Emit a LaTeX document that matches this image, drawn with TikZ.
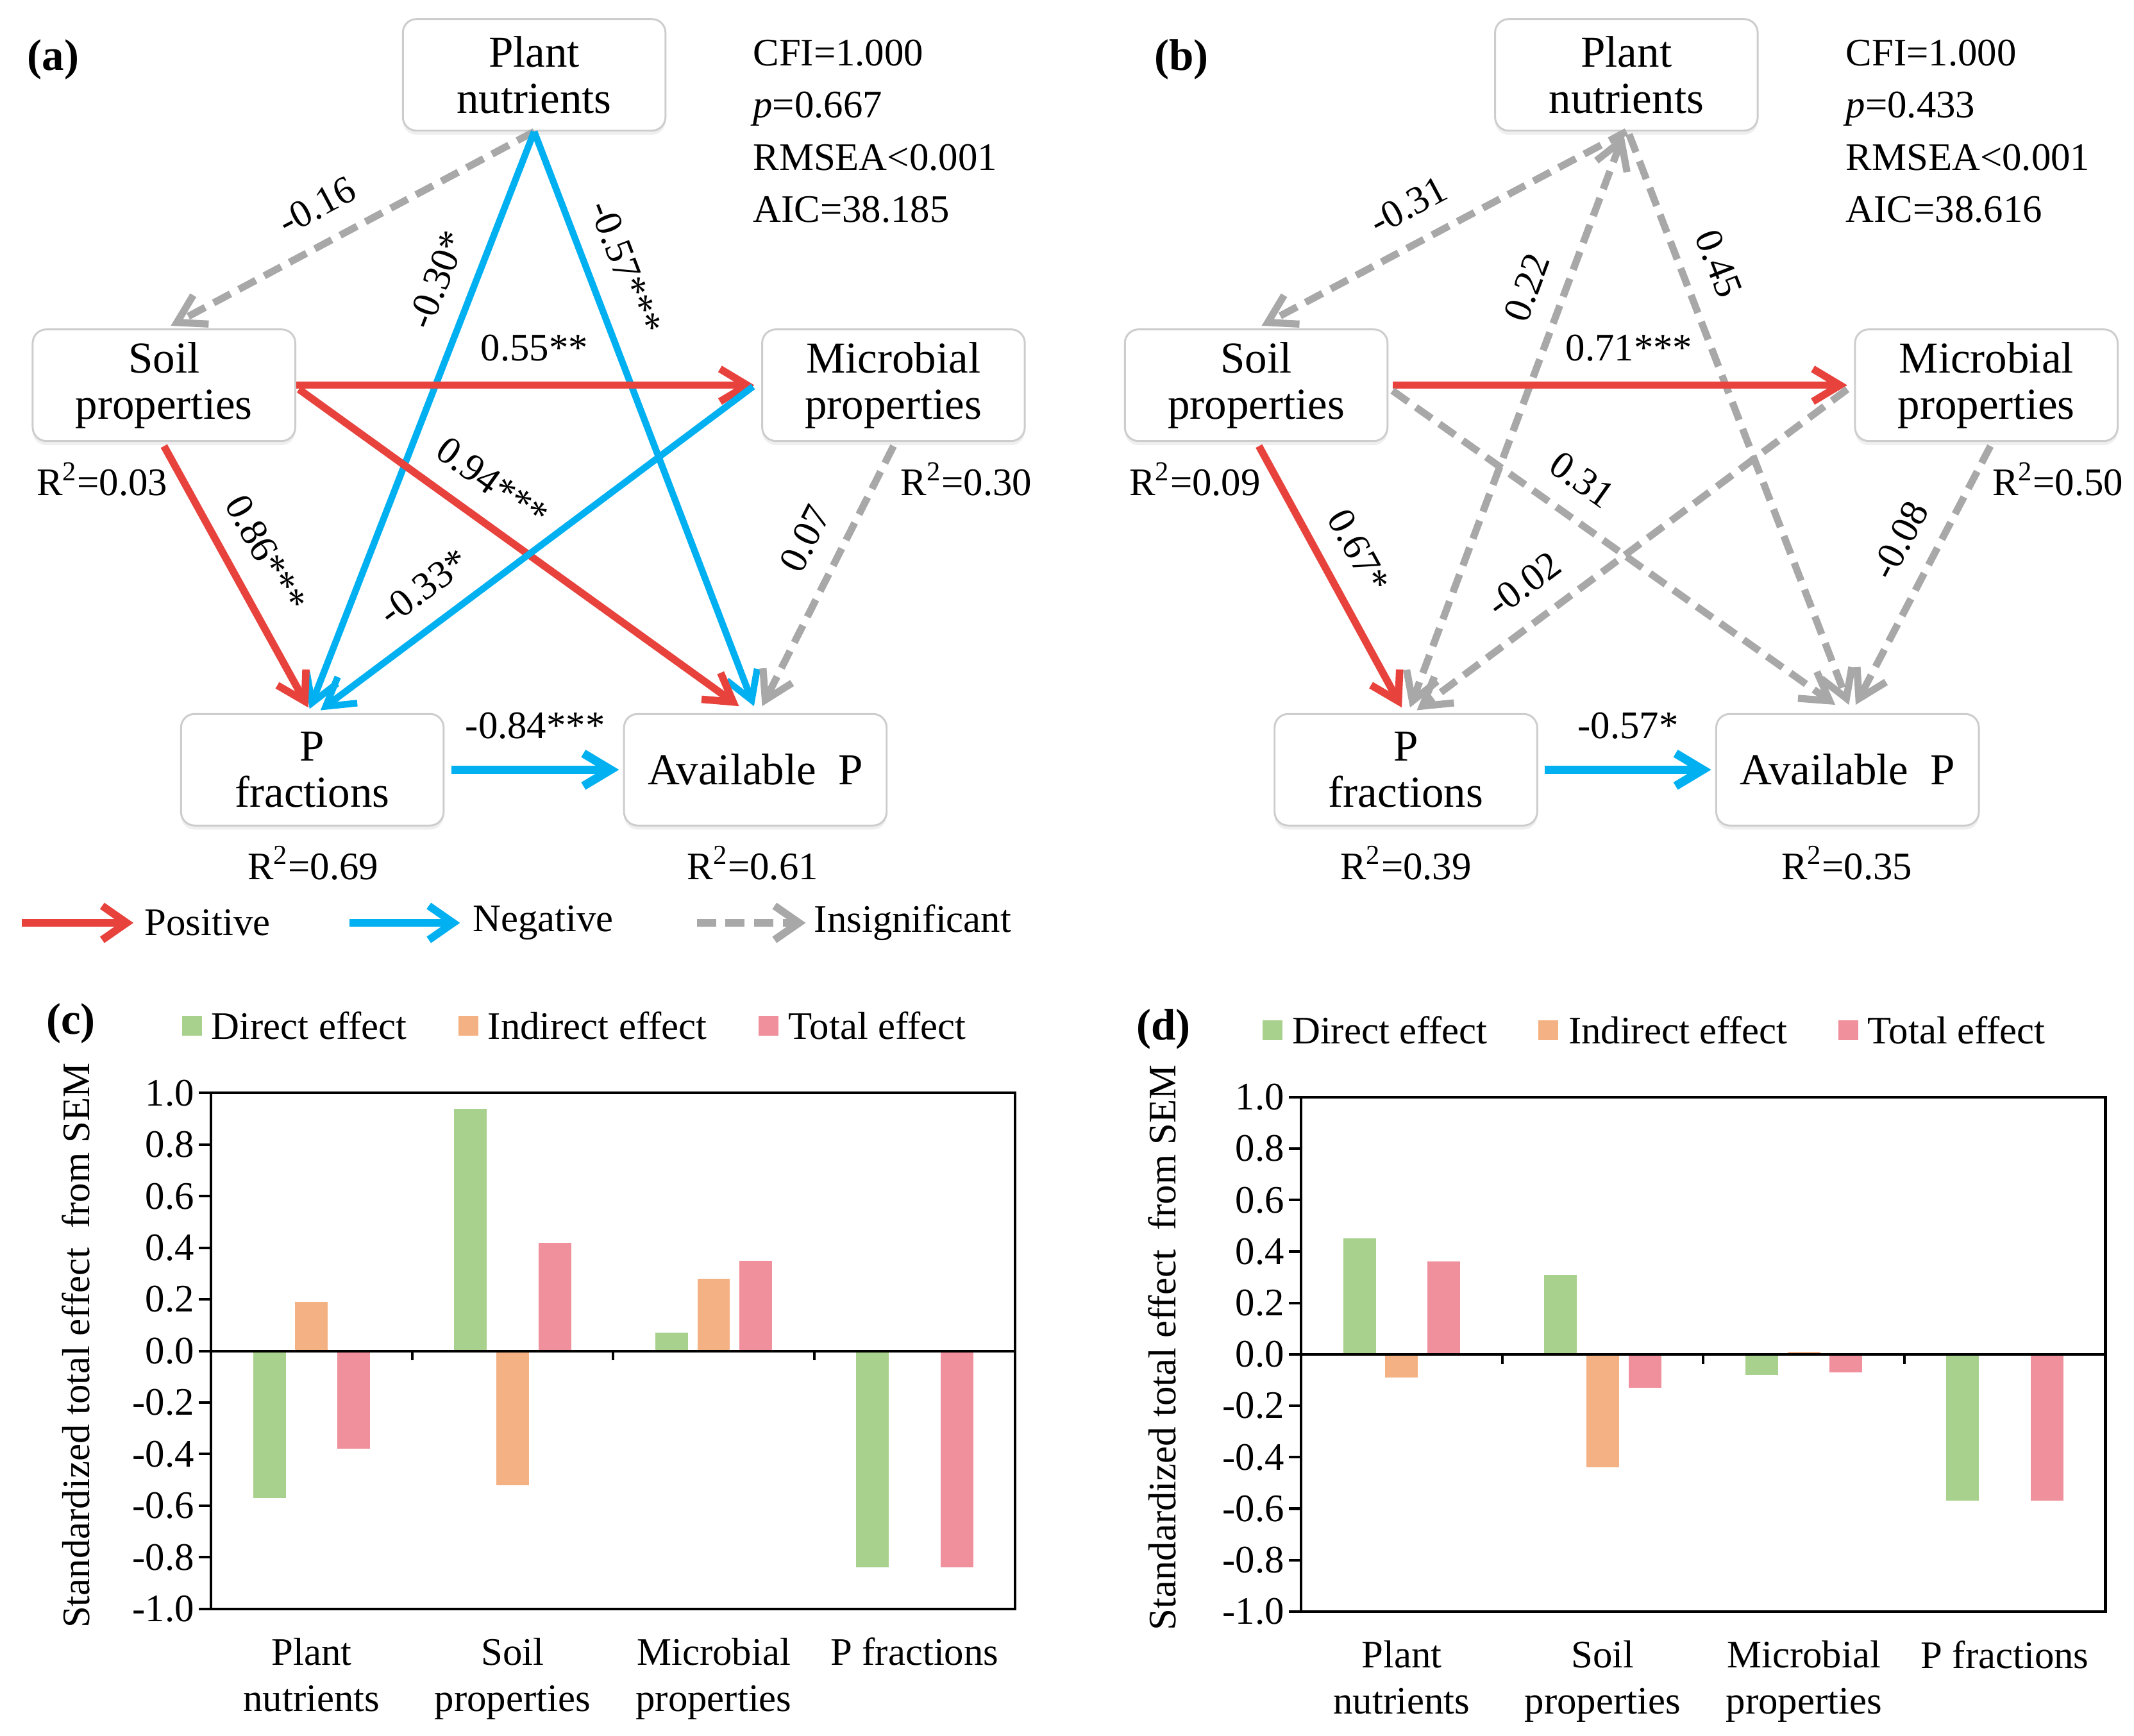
\documentclass[tikz,border=0pt]{standalone}
\usepackage{fontspec}
\setmainfont{Liberation Serif}
\usetikzlibrary{positioning,arrows.meta,calc,shadows}
\definecolor{PosRed}{RGB}{232,66,61}
\definecolor{NegBlue}{RGB}{0,176,240}
\definecolor{InsGray}{RGB}{168,168,168}
\definecolor{BoxLine}{RGB}{205,205,205}
\definecolor{DirGreen}{RGB}{169,209,142}
\definecolor{IndOrange}{RGB}{244,177,131}
\definecolor{TotPink}{RGB}{240,144,156}
\newcommand{\semfont}{\fontsize{16.3}{19.3}\selectfont}
\newcommand{\boxfont}{\fontsize{18.5}{19.3}\selectfont}
\newcommand{\fitfont}{\fontsize{16.3}{21.8}\selectfont}
\newcommand{\panelfont}{\fontsize{18.5}{20}\selectfont\bfseries}

\begin{document}
\begin{tikzpicture}[x=0.02cm, y=-0.02cm,
  every node/.style={font=\semfont, inner sep=0pt},
  varbox/.style={draw=BoxLine, line width=0.8pt, rounded corners=0.2cm, fill=white,
    minimum width=3.86cm, minimum height=1.64cm, align=center, font=\boxfont,
    drop shadow={shadow xshift=0pt, shadow yshift=-0.06cm, fill=black!12}},
  semtip/.style={-{Straight Barb[length=0.4cm, width=0.48cm]}},
  posarr/.style={semtip, draw=PosRed, line width=3.1pt},
  negarr/.style={semtip, draw=NegBlue, line width=2.8pt},
  insarr/.style={semtip, draw=InsGray, line width=3pt, dash pattern=on 8pt off 4pt},
  legarr/.style={line width=3.2pt, -{Straight Barb[length=0.36cm, width=0.5cm]}},
  coef/.style={sloped, above, inner sep=8.5pt, text=black},
  fitstat/.style={font=\fitfont, align=left, anchor=west},
  panel/.style={font=\panelfont},
  axisline/.style={line width=1.1pt},
  legsq/.style={minimum size=0.29cm},
  catlab/.style={anchor=north, align=center}
]
\useasboundingbox (0,0) rectangle (1568,1275);

% ---------- (a) SEM ----------
\node[panel] (a-lab) at (39,44) {(a)};
\node[varbox] (a-pn) at (392.5,55) {Plant\\nutrients};
\node[varbox] (a-sp) at (120.5,283) {Soil\\properties};
\node[varbox] (a-mp) at (656.5,283) {Microbial\\properties};
\node[varbox] (a-pf) at (229.5,565.5) {P\\fractions};
\node[varbox] (a-ap) at (555,565.5) {Available\ \ P};
\node[fitstat] (a-fit) at (553,96.5) {CFI=1.000\\\textit{p}=0.667\\RMSEA<0.001\\AIC=38.185};
\node (a-r-sp) at (75,352) {R\textsuperscript{2}=0.03};
\node (a-r-mp) at (710,352) {R\textsuperscript{2}=0.30};
\node (a-r-pf) at (230,634) {R\textsuperscript{2}=0.69};
\node (a-r-ap) at (553,634) {R\textsuperscript{2}=0.61};

\draw[insarr] (a-pn.south) -- node[coef, pos=0.55] (a-e1) {-0.16} ($(a-sp.north)+(5,-2)$);
\draw[negarr] (a-pn.south) -- node[coef, pos=0.28] (a-e2) {-0.30*} ($(a-pf.north)+(-2,-3)$);
\draw[negarr] (a-pn.south) -- node[coef, pos=0.26] (a-e3) {-0.57***} ($(a-ap.north)+(-1,-5)$);
\draw[posarr] (a-sp.east) -- node[coef, pos=0.52] (a-e4) {0.55**} ($(a-mp.west)+(-5,0)$);
\draw[posarr] ($(a-sp.east)+(2,3)$) -- node[coef, pos=0.39] (a-e5) {0.94***} ($(a-ap.north)+(-12,-5)$);
\draw[posarr] ($(a-sp.south)+(0,3)$) -- node[coef, pos=0.48] (a-e6) {0.86***} ($(a-pf.north)+(-3,-4)$);
\draw[negarr] ($(a-mp.west)+(-6,1)$) -- node[coef, pos=0.71] (a-e7) {-0.33*} ($(a-pf.north)+(6,-2)$);
\draw[insarr] ($(a-mp.south)+(0,3)$) -- node[coef, pos=0.42] (a-e8) {0.07} ($(a-ap.north)+(5,-5)$);
\draw[negarr, line width=3.6pt] ($(a-pf.east)+(5,0)$) -- node[coef, inner sep=11pt] (a-e9) {-0.84***} ($(a-ap.west)+(-3,0)$);

% legend
\coordinate (lg-p1) at (16,678);
\coordinate (lg-p2) at (98,678);
\coordinate (lg-n1) at (257,678);
\coordinate (lg-n2) at (338,678);
\coordinate (lg-i1) at (512,678);
\coordinate (lg-i2) at (592,678);
\draw[posarr, legarr] (lg-p1) -- (lg-p2);
\draw[negarr, legarr] (lg-n1) -- (lg-n2);
\draw[insarr, legarr] (lg-i1) -- (lg-i2);
\node[right=0.16cm of lg-p2] (lg-pos) {Positive};
\node[right=0.18cm of lg-n2] (lg-neg) {Negative};
\node[right=0.12cm of lg-i2] (lg-ins) {Insignificant};

% ---------- (b) SEM ----------
\node[panel] (b-lab) at (868,44) {(b)};
\node[varbox] (b-pn) at (1195,55) {Plant\\nutrients};
\node[varbox] (b-sp) at (923,283) {Soil\\properties};
\node[varbox] (b-mp) at (1459.5,283) {Microbial\\properties};
\node[varbox] (b-pf) at (1033,565.5) {P\\fractions};
\node[varbox] (b-ap) at (1357.5,565.5) {Available\ \ P};
\node[fitstat] (b-fit) at (1356,96.5) {CFI=1.000\\\textit{p}=0.433\\RMSEA<0.001\\AIC=38.616};
\node (b-r-sp) at (878,352) {R\textsuperscript{2}=0.09};
\node (b-r-mp) at (1512,352) {R\textsuperscript{2}=0.50};
\node (b-r-pf) at (1033,634) {R\textsuperscript{2}=0.39};
\node (b-r-ap) at (1357,634) {R\textsuperscript{2}=0.35};

\draw[insarr] (b-pn.south) -- node[coef, pos=0.55] (b-e1) {-0.31} ($(b-sp.north)+(4,-2)$);
\draw[insarr, {Straight Barb[length=0.4cm, width=0.48cm]}-{Straight Barb[length=0.4cm, width=0.48cm]}] ($(b-pn.south)+(-2,2)$) -- node[coef, pos=0.29] (b-e2) {0.22} ($(b-pf.north)+(3,-4)$);
\draw[insarr] ($(b-pn.south)+(2,2)$) -- node[coef, pos=0.25] (b-e3) {0.45} ($(b-ap.north)+(1,-6)$);
\draw[posarr] ($(b-sp.east)+(3,0)$) -- node[coef, pos=0.52] (b-e4) {0.71***} ($(b-mp.west)+(-5,0)$);
\draw[insarr] ($(b-sp.east)+(3,4)$) -- node[coef, pos=0.38] (b-e5) {0.31} ($(b-ap.north)+(-9,-6)$);
\draw[posarr] ($(b-sp.south)+(2,3)$) -- node[coef, pos=0.47] (b-e6) {0.67*} ($(b-pf.north)+(-3,-4)$);
\draw[insarr] ($(b-mp.west)+(-5,3)$) -- node[coef, pos=0.70] (b-e7) {-0.02} ($(b-pf.north)+(8,-2)$);
\draw[insarr] ($(b-mp.south)+(3,3)$) -- node[coef, pos=0.43] (b-e8) {-0.08} ($(b-ap.north)+(6,-6)$);
\draw[negarr, line width=3.6pt] ($(b-pf.east)+(5,0)$) -- node[coef, inner sep=11pt] (b-e9) {-0.57*} ($(b-ap.west)+(-3,0)$);

% ---------- (c) effects ----------
\node[panel] (c-lab) at (52,752) {(c)};
\node[legsq, fill=DirGreen] (c-k1) at (141,753.5) {};
\node[right=0.13cm of c-k1] (c-t1) {Direct effect};
\node[legsq, fill=IndOrange] (c-k2) at (344,753.5) {};
\node[right=0.13cm of c-k2] (c-t2) {Indirect effect};
\node[legsq, fill=TotPink] (c-k3) at (564.5,753.5) {};
\node[right=0.14cm of c-k3] (c-t3) {Total effect};
\node[rotate=90] (c-ytitle) at (56,988.5) {Standardized total effect\ \ from SEM};

\begin{scope}[shift={(155,992.5)}, y=3.79cm]
  \foreach \d/\i/\t [count=\k from 0] in {-0.57/0.19/-0.38, 0.94/-0.52/0.42, 0.07/0.28/0.35, -0.84/0/-0.84}{
    \pgfmathsetmacro{\xc}{73.9+147.75*\k}
    \fill[DirGreen] (\xc-43,0) rectangle (\xc-19,\d);
    \fill[IndOrange] (\xc-12,0) rectangle (\xc+12,\i);
    \fill[TotPink] (\xc+19,0) rectangle (\xc+43,\t);
  }
  \draw[axisline] (0,-1) rectangle (591,1);
  \draw[axisline] (0,0) -- (591,0);
  \foreach \xt in {147.75,295.5,443.25} \draw[axisline] (\xt,0) -- (\xt,-0.037);
  \foreach \v/\lab [count=\n] in {1/1.0, 0.8/0.8, 0.6/0.6, 0.4/0.4, 0.2/0.2, 0/0.0, -0.2/-0.2, -0.4/-0.4, -0.6/-0.6, -0.8/-0.8, -1/-1.0}{
    \draw[axisline] (-9,\v) -- (0,\v);
    \node[anchor=east] (c-y\n) at (-12,\v) {\lab};
  }
\end{scope}
\node[catlab] (c-x1) at (228.9,1203) {Plant\\nutrients};
\node[catlab] (c-x2) at (376.6,1203) {Soil\\properties};
\node[catlab] (c-x3) at (524.4,1203) {Microbial\\properties};
\node[catlab] (c-x4) at (672.1,1203) {P fractions};

% ---------- (d) effects ----------
\node[panel] (d-lab) at (855,756) {(d)};
\node[legsq, fill=DirGreen] (d-k1) at (935,757) {};
\node[right=0.13cm of d-k1] (d-t1) {Direct effect};
\node[legsq, fill=IndOrange] (d-k2) at (1137.5,757) {};
\node[right=0.14cm of d-k2] (d-t2) {Indirect effect};
\node[legsq, fill=TotPink] (d-k3) at (1358,757) {};
\node[right=0.13cm of d-k3] (d-t3) {Total effect};
\node[rotate=90] (d-ytitle) at (854,990) {Standardized total effect\ \ from SEM};

\begin{scope}[shift={(956,995)}, y=3.78cm]
  \foreach \d/\i/\t [count=\k from 0] in {0.45/-0.09/0.36, 0.31/-0.44/-0.13, -0.08/0.01/-0.07, -0.57/0/-0.57}{
    \pgfmathsetmacro{\xc}{73.9+147.75*\k}
    \fill[DirGreen] (\xc-43,0) rectangle (\xc-19,\d);
    \fill[IndOrange] (\xc-12,0) rectangle (\xc+12,\i);
    \fill[TotPink] (\xc+19,0) rectangle (\xc+43,\t);
  }
  \draw[axisline] (0,-1) rectangle (591,1);
  \draw[axisline] (0,0) -- (591,0);
  \foreach \xt in {147.75,295.5,443.25} \draw[axisline] (\xt,0) -- (\xt,-0.037);
  \foreach \v/\lab [count=\n] in {1/1.0, 0.8/0.8, 0.6/0.6, 0.4/0.4, 0.2/0.2, 0/0.0, -0.2/-0.2, -0.4/-0.4, -0.6/-0.6, -0.8/-0.8, -1/-1.0}{
    \draw[axisline] (-9,\v) -- (0,\v);
    \node[anchor=east] (d-y\n) at (-12,\v) {\lab};
  }
\end{scope}
\node[catlab] (d-x1) at (1029.9,1205) {Plant\\nutrients};
\node[catlab] (d-x2) at (1177.6,1205) {Soil\\properties};
\node[catlab] (d-x3) at (1325.4,1205) {Microbial\\properties};
\node[catlab] (d-x4) at (1473.1,1205) {P fractions};
\end{tikzpicture}
\end{document}
